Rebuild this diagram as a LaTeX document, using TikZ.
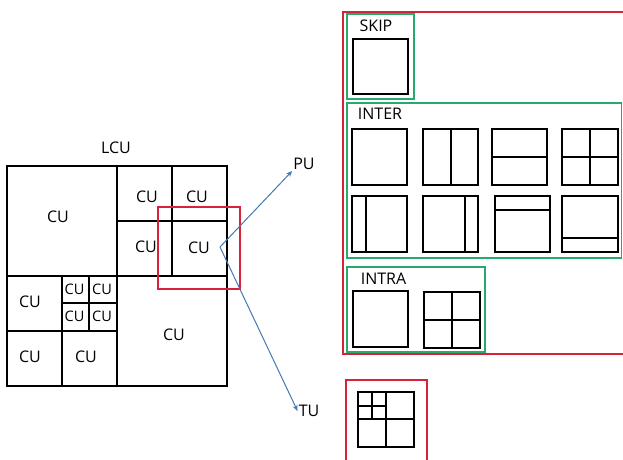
\documentclass[tikz,border=0pt]{standalone}
\usepackage{fontspec}
\setmainfont{Open Sans}
\usetikzlibrary{arrows.meta}
\definecolor{boxred}{RGB}{215,35,55}
\definecolor{boxgreen}{RGB}{40,170,110}
\definecolor{arrblue}{RGB}{70,120,180}
\begin{document}
\begin{tikzpicture}[x=1pt, y=-1pt,
                    cu/.style={font=\fontsize{16}{19}\selectfont, inner sep=1pt},
                    smallcu/.style={font=\fontsize{14.5}{16}\selectfont, inner sep=0pt},
                    part/.style={draw=black, line width=1.3pt},
                    redbox/.style={draw=boxred, line width=1.3pt},
                    greenbox/.style={draw=boxgreen, line width=1.3pt},
                    arr/.style={draw=arrblue, line width=1pt, -{Stealth[length=6pt, width=5pt]}}
                ]
                \useasboundingbox (0,0) rectangle (623,459);
                \clip (0,0) rectangle (623,459);
                % LCU partition
                \node[cu] (lcu) at (116,148) {LCU};
                \draw[part] (7,166) rectangle (227,386);
                \draw[part] (117,166) -- (117,386) (7,276) -- (227,276);
                \draw[part] (172,166) -- (172,276) (117,221) -- (227,221);
                \draw[part] (62,276) -- (62,386) (7,331) -- (117,331);
                \draw[part] (89,276) -- (89,331) (62,303) -- (117,303);
                \node[cu] (cu1) at (58,217) {CU};
                \node[cu] (cu2) at (147,197) {CU};
                \node[cu] (cu3) at (197,197) {CU};
                \node[cu] (cu4) at (146,247) {CU};
                \node[cu] (cu5) at (199,248) {CU};
                \node[cu] (cu6) at (30,302) {CU};
                \node[cu] (cu7) at (30,357) {CU};
                \node[cu] (cu8) at (86,357) {CU};
                \node[cu] (cu9) at (174,335) {CU};
                \node[smallcu] (cu10) at (74.5,289.5) {CU};
                \node[smallcu] (cu11) at (102,289.5) {CU};
                \node[smallcu] (cu12) at (74.5,316.5) {CU};
                \node[smallcu] (cu13) at (102,316.5) {CU};
                \draw[redbox] (158,207) rectangle (240,289);
                % split into PU and TU
                \coordinate (split) at (220,247);
                \node[cu] (pu) at (304,164) {PU};
                \node[cu] (tu) at (309,411) {TU};
                \draw[arr] (split) -- (pu.south west);
                \draw[arr] (split) -- (tu.west);
                % PU modes
                \draw[redbox] (343,12) rectangle (626,354);
                \draw[greenbox] (347,14) rectangle (414,99);
                \node[cu] (skip) at (376,25.5) {SKIP};
                \draw[part] (353,39) rectangle (408,94);
                \draw[greenbox] (347,103) rectangle (621.5,258);
                \node[cu] (inter) at (380,113.5) {INTER};
                \draw[part] (352,129) rectangle (407,185);
                \draw[part] (423,129) rectangle (478,185) (451,129) -- (451,185);
                \draw[part] (492,129) rectangle (547,185) (492,157) -- (547,157);
                \draw[part] (562,129) rectangle (618,185) (590,129) -- (590,185) (562,157) -- (618,157);
                \draw[part] (352,196) rectangle (407,252) (366,196) -- (366,252);
                \draw[part] (423,196) rectangle (478,252) (465,196) -- (465,252);
                \draw[part] (495,196) rectangle (550,252) (495,210) -- (550,210);
                \draw[part] (562,196) rectangle (618,252) (562,238) -- (618,238);
                \draw[greenbox] (347,267) rectangle (485,352);
                \node[cu] (intra) at (383.5,278.5) {INTRA};
                \draw[part] (353,291) rectangle (408,347);
                \draw[part] (424,292) rectangle (480,348) (452,292) -- (452,348) (424,320) -- (480,320);
                % TU quadtree
                \draw[redbox] (346,380) rectangle (427,470);
                \draw[part] (358,392) rectangle (414,447) (386,392) -- (386,447) (358,419) -- (414,419);
                \draw[part] (372,392) -- (372,419) (358,406) -- (386,406);
\end{tikzpicture}
\end{document}
